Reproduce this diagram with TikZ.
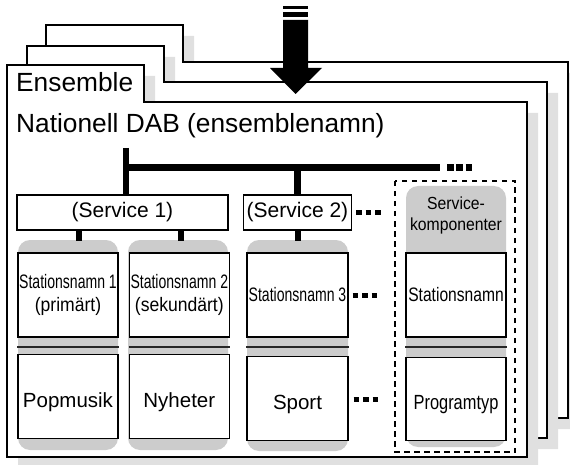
\documentclass[tikz,border=0pt]{standalone}
\usepackage{fontspec}
\setmainfont{Liberation Sans}
\newfontfamily\narrowfont{Liberation Sans}[FakeStretch=0.72]
\newfontfamily\compfont{Liberation Sans}[FakeStretch=0.8]
\newfontfamily\slimfont{Liberation Sans}[FakeStretch=0.9]
\usetikzlibrary{positioning}

\begin{document}
\begin{tikzpicture}[
    x=1pt, y=-1pt,
    node distance=16pt,
    sheet/.style={draw, fill=white, line width=2pt, line join=miter},
    sheetshade/.style={fill=black!12},
    colback/.style={fill=black!20, rounded corners=12pt},
    title/.style={anchor=base west, inner sep=0pt, font=\fontsize{26.3}{30}\selectfont},
    svcbox/.style={rectangle, draw, line width=1.3pt, fill=white, minimum height=35pt, font=\fontsize{21}{24}\selectfont},
    stbox/.style={rectangle, draw, line width=1.3pt, fill=white, minimum width=100pt, minimum height=84pt, inner sep=1pt, align=center, font=\fontsize{19.5}{23.5}\selectfont},
    ptbox/.style={stbox, text height=22pt, text depth=0pt, font=\fontsize{20.5}{24}\selectfont},
    complabel/.style={align=center, inner sep=0pt, font=\fontsize{17.5}{21}\selectfont\slimfont},
    bus/.style={line width=6.5pt},
    stub/.style={line width=6pt},
    sepline/.style={line width=2pt, draw=black!85},
    busdots/.style={line width=6.5pt, dash pattern=on 6.5pt off 2.8pt},
    moredots/.style={line width=5pt, dash pattern=on 5.5pt off 4pt},
    dashbox/.style={draw, line width=1.5pt, dash pattern=on 5.5pt off 4.5pt}
]
    \useasboundingbox (0,0) rectangle (570,465);

    % stacked ensemble sheets, back to front
    \fill[sheetshade, shift={(11,11)}] (46,418) -- (46,25) -- (183,25) -- (183,62) -- (568,62) -- (568,418) -- cycle;
    \draw[sheet] (46,418) -- (46,25) -- (183,25) -- (183,62) -- (568,62) -- (568,418) -- cycle;
    \fill[sheetshade, shift={(11,11)}] (27,438) -- (27,46) -- (164,46) -- (164,82) -- (547,82) -- (547,438) -- cycle;
    \draw[sheet] (27,438) -- (27,46) -- (164,46) -- (164,82) -- (547,82) -- (547,438) -- cycle;
    \fill[sheetshade, shift={(11,11)}] (7,457) -- (7,65) -- (144,65) -- (144,102) -- (527,102) -- (527,457) -- cycle;
    \draw[sheet] (7,457) -- (7,65) -- (144,65) -- (144,102) -- (527,102) -- (527,457) -- cycle;

    % incoming signal
    \fill (283,6) rectangle (308,9);
    \fill (283,12) rectangle (308,17);
    \fill (283,20) -- (308,20) -- (308,68) -- (322,68) -- (295.5,94) -- (270,68) -- (283,68) -- cycle;

    \node[title] (ensemble) at (16,92) {Ensemble};
    \node[title] (ensname) at (16,133) {Nationell DAB (ensemblenamn)};

    % grey backs of the columns
    \fill[colback] (18,240) rectangle (118,450);
    \fill[colback] (128,240) rectangle (228,450);
    \fill[colback] (247,240) rectangle (348,451);
    \fill[colback] (406,186) rectangle (506,447);

    \node[svcbox, minimum width=211pt] (svc1) at (122.5,212.5) {(Service 1)};
    \node[svcbox, minimum width=101pt] (svc2) at (297.5,212.5) {(Service 2)};

    \node[stbox] (st1) at (68,295) {{\narrowfont Stationsnamn 1}\\{\slimfont (primärt)}};
    \node[stbox, right=10pt of st1] (st2) {{\narrowfont Stationsnamn 2}\\{\slimfont (sekundärt)}};
    \node[stbox, minimum width=101pt] (st3) at (297.5,295) {\narrowfont Stationsnamn 3};
    \node[stbox] (st4) at (456,295) {\compfont Stationsnamn};

    \node[ptbox, below=of st1] (pt1) {Popmusik};
    \node[ptbox, below=of st2] (pt2) {Nyheter};
    \node[ptbox, minimum width=101pt, below=18pt of st3] (pt3) {Sport};
    \node[ptbox, minimum height=83pt, below=19pt of st4] (pt4) {\compfont Programtyp};

    \node[complabel] (comp) at (456,215) {Service-\\komponenter};

    \draw[sepline] ([yshift=-9pt]st1.south west) -- ([yshift=-9pt]st1.south east);
    \draw[sepline] ([yshift=-9pt]st2.south west) -- ([yshift=-9pt]st2.south east);
    \draw[sepline] ([yshift=-9pt]st3.south west) -- ([yshift=-9pt]st3.south east);
    \draw[sepline] ([yshift=-9pt]st4.south west) -- ([yshift=-9pt]st4.south east);

    % ensemble bus
    \coordinate (stemtop) at (126,148);
    \coordinate (busend) at (440,167.5);
    \draw[bus] (stemtop) -- ([xshift=3.5pt]svc1.north);
    \draw[bus] (stemtop |- busend) -- (busend);
    \draw[bus] (svc2.north |- busend) -- (svc2.north);
    \draw[busdots] (busend) ++(7,0) -- ++(25.5,0);

    \draw[stub] ([xshift=11pt]st1.north |- svc1.south) -- ++(0,10);
    \draw[stub] ([xshift=2pt]st2.north |- svc1.south) -- ++(0,10);
    \draw[stub] (st3.north |- svc2.south) -- ++(0,10);

    \draw[moredots] ([xshift=4pt]svc2.east) -- ++(25,0);
    \draw[moredots] ([xshift=4pt]st3.east) -- ++(25,0);
    \draw[moredots] ([xshift=5pt,yshift=-1.5pt]pt3.east) -- ++(24,0);

    \draw[dashbox] (395,181) rectangle (515,452);
\end{tikzpicture}
\end{document}
